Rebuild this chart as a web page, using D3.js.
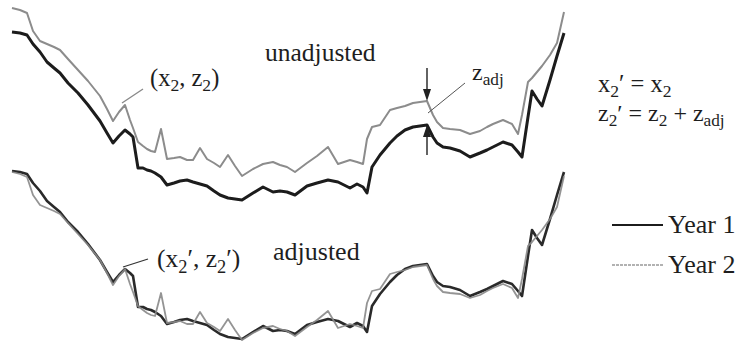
<!DOCTYPE html>
<html>
<head>
<meta charset="utf-8">
<script src="https://cdn.jsdelivr.net/npm/d3@7"></script>
<style>
  body { margin: 0; background: #fff; }
</style>
</head>
<body>
<div id="chart"></div>
<script>
// distance along the profile and elevation of each survey
const dist = [0, 8, 15, 21, 28, 35, 42, 48, 56, 66, 76, 88, 95, 101, 107, 113, 118, 121, 126, 131,
  135, 139, 143, 149, 155, 162, 168, 175, 181, 188, 195, 202, 208, 216, 223, 230, 241, 251, 261, 268,
  275, 283, 295, 305, 316, 326, 332, 338, 345, 351, 355, 360, 368, 378, 385, 393, 401, 408, 415, 421,
  425, 431, 438, 448, 458, 468, 475, 481, 491, 500, 506, 510, 516, 520, 525, 530, 538, 545, 552];
const year1 = [188, 187, 185, 176, 168, 158, 152, 147, 137, 127, 115, 99, 87, 77, 84, 90, 86, 83, 52, 52,
  50, 49, 47, 43, 35, 37, 39, 40, 38, 36, 34, 29, 25, 22, 21, 20, 27, 33, 28, 29,
  28, 25, 34, 37, 40, 38, 35, 32, 36, 33, 27, 53, 65, 77, 84, 90, 93, 94, 95, 83,
  77, 73, 72, 69, 63, 67, 70, 73, 78, 75, 68, 63, 103, 129, 121, 114, 140, 164, 187];
const year2 = [212, 210, 207, 189, 179, 176, 173, 170, 161, 150, 139, 124, 111, 99, 108, 115, 100, 92, 78, 74,
  71, 69, 68, 91, 61, 62, 63, 60, 60, 72, 61, 57, 53, 65, 54, 44, 51, 56, 58, 55,
  53, 48, 57, 64, 73, 56, 58, 60, 58, 56, 81, 93, 95, 110, 112, 114, 117, 118, 119, 105,
  98, 92, 91, 90, 86, 89, 93, 96, 100, 96, 86, 105, 138, 142, 148, 154, 165, 177, 208];
const zAdj = -25;               // shift applied to year 2
const markIdx = 58;             // where z_adj is shown
const pointIdx = 15;            // the (x2, z2) point

const width = 742, height = 344;
const svg = d3.select("#chart").append("svg")
  .attr("width", width).attr("height", height);

const x = d3.scaleLinear().domain([0, 552]).range([12, 564]);
const yTop = d3.scaleLinear().domain([0, 220]).range([220, 0]);
const yBot = d3.scaleLinear().domain([0, 220]).range([359, 139]);

const y1 = dist.map((d, i) => [d, year1[i]]);
const y2 = dist.map((d, i) => [d, year2[i]]);
const y2adj = dist.map((d, i) => [d, year2[i] + zAdj]);

const lineTop = d3.line().x(d => x(d[0])).y(d => yTop(d[1]));
const lineBot = d3.line().x(d => x(d[0])).y(d => yBot(d[1]));

// unadjusted
svg.append("path").datum(y1).attr("d", lineTop)
  .attr("fill", "none").attr("stroke", "#1c1c1c").attr("stroke-width", 3).attr("stroke-linejoin", "round");
svg.append("path").datum(y2).attr("d", lineTop)
  .attr("fill", "none").attr("stroke", "#8c8c8c").attr("stroke-width", 2).attr("stroke-linejoin", "round");

// adjusted
svg.append("path").datum(y1).attr("d", lineBot)
  .attr("fill", "none").attr("stroke", "#2a2a2a").attr("stroke-width", 2.6).attr("stroke-linejoin", "round");
svg.append("path").datum(y2adj).attr("d", lineBot)
  .attr("fill", "none").attr("stroke", "#888").attr("stroke-width", 1.8).attr("stroke-linejoin", "round")
  .attr("opacity", 0.9);

// z_adj arrows
const ax = x(dist[markIdx]);
const tipDown = yTop(year2[markIdx]), tipUp = yTop(year1[markIdx]);
svg.append("line").attr("x1", ax).attr("x2", ax).attr("y1", 68).attr("y2", tipDown - 4)
  .attr("stroke", "#222").attr("stroke-width", 1.4);
svg.append("path").attr("d", `M${ax - 4},${tipDown - 12}L${ax + 4},${tipDown - 12}L${ax},${tipDown}Z`).attr("fill", "#222");
svg.append("line").attr("x1", ax).attr("x2", ax).attr("y1", 155).attr("y2", tipUp + 4)
  .attr("stroke", "#222").attr("stroke-width", 1.4);
svg.append("path").attr("d", `M${ax - 4},${tipUp + 12}L${ax + 4},${tipUp + 12}L${ax},${tipUp}Z`).attr("fill", "#222");

// leader lines
svg.append("line").attr("x1", 465).attr("y1", 83).attr("x2", ax + 1).attr("y2", (tipDown + tipUp) / 2)
  .attr("stroke", "#555").attr("stroke-width", 1);
const px = x(dist[pointIdx]);
svg.append("line").attr("x1", 143).attr("y1", 89).attr("x2", px - 3).attr("y2", yTop(year2[pointIdx]) - 2)
  .attr("stroke", "#888").attr("stroke-width", 1.4);
svg.append("line").attr("x1", 148).attr("y1", 259).attr("x2", px - 2).attr("y2", yBot(year2[pointIdx] + zAdj) - 2)
  .attr("stroke", "#333").attr("stroke-width", 1.2);

// text helper: parts = [[text, sub?]]
function rich(xp, yp, size, parts) {
  const t = svg.append("text").attr("x", xp).attr("y", yp)
    .style("font-family", '"Liberation Serif"').style("font-size", size + "px").style("fill", "#1e1e1e");
  let shifted = false;
  parts.forEach(p => {
    const s = t.append("tspan").text(p[0]);
    if (p[1]) s.style("font-size", (size * 0.72) + "px");
    if (p[1] && !shifted) { s.attr("dy", size * 0.22); shifted = true; }
    else if (!p[1] && shifted) { s.attr("dy", -size * 0.22); shifted = false; }
  });
  return t;
}

rich(265, 61, 25.5, [["unadjusted"]]);
rich(273, 260, 26, [["adjusted"]]);
rich(150, 86, 24.5, [["(x"], ["2", 1], [", z"], ["2", 1], [")"]]);
rich(157, 267, 25.5, [["(x"], ["2", 1], ["\u2032, z"], ["2", 1], ["\u2032)"]]);
rich(472, 80, 24, [["z"], ["adj", 1]]);
rich(598, 92, 24.5, [["x"], ["2", 1], ["\u2032 = x"], ["2", 1]]);
rich(598, 121, 24, [["z"], ["2", 1], ["\u2032 = z"], ["2", 1], [" + z"], ["adj", 1]]);

// legend
const legend = [["Year 1", "#1c1c1c", 2.2, 233, null], ["Year 2", "#999", 1.4, 273, "3,1"]];
legend.forEach(l => {
  svg.append("line").attr("x1", 612).attr("x2", 663).attr("y1", l[3] - 8).attr("y2", l[3] - 8)
    .attr("stroke", l[1]).attr("stroke-width", l[2]).attr("stroke-dasharray", l[4]);
  rich(668, l[3], 26, [[l[0]]]);
});
</script>
</body>
</html>
